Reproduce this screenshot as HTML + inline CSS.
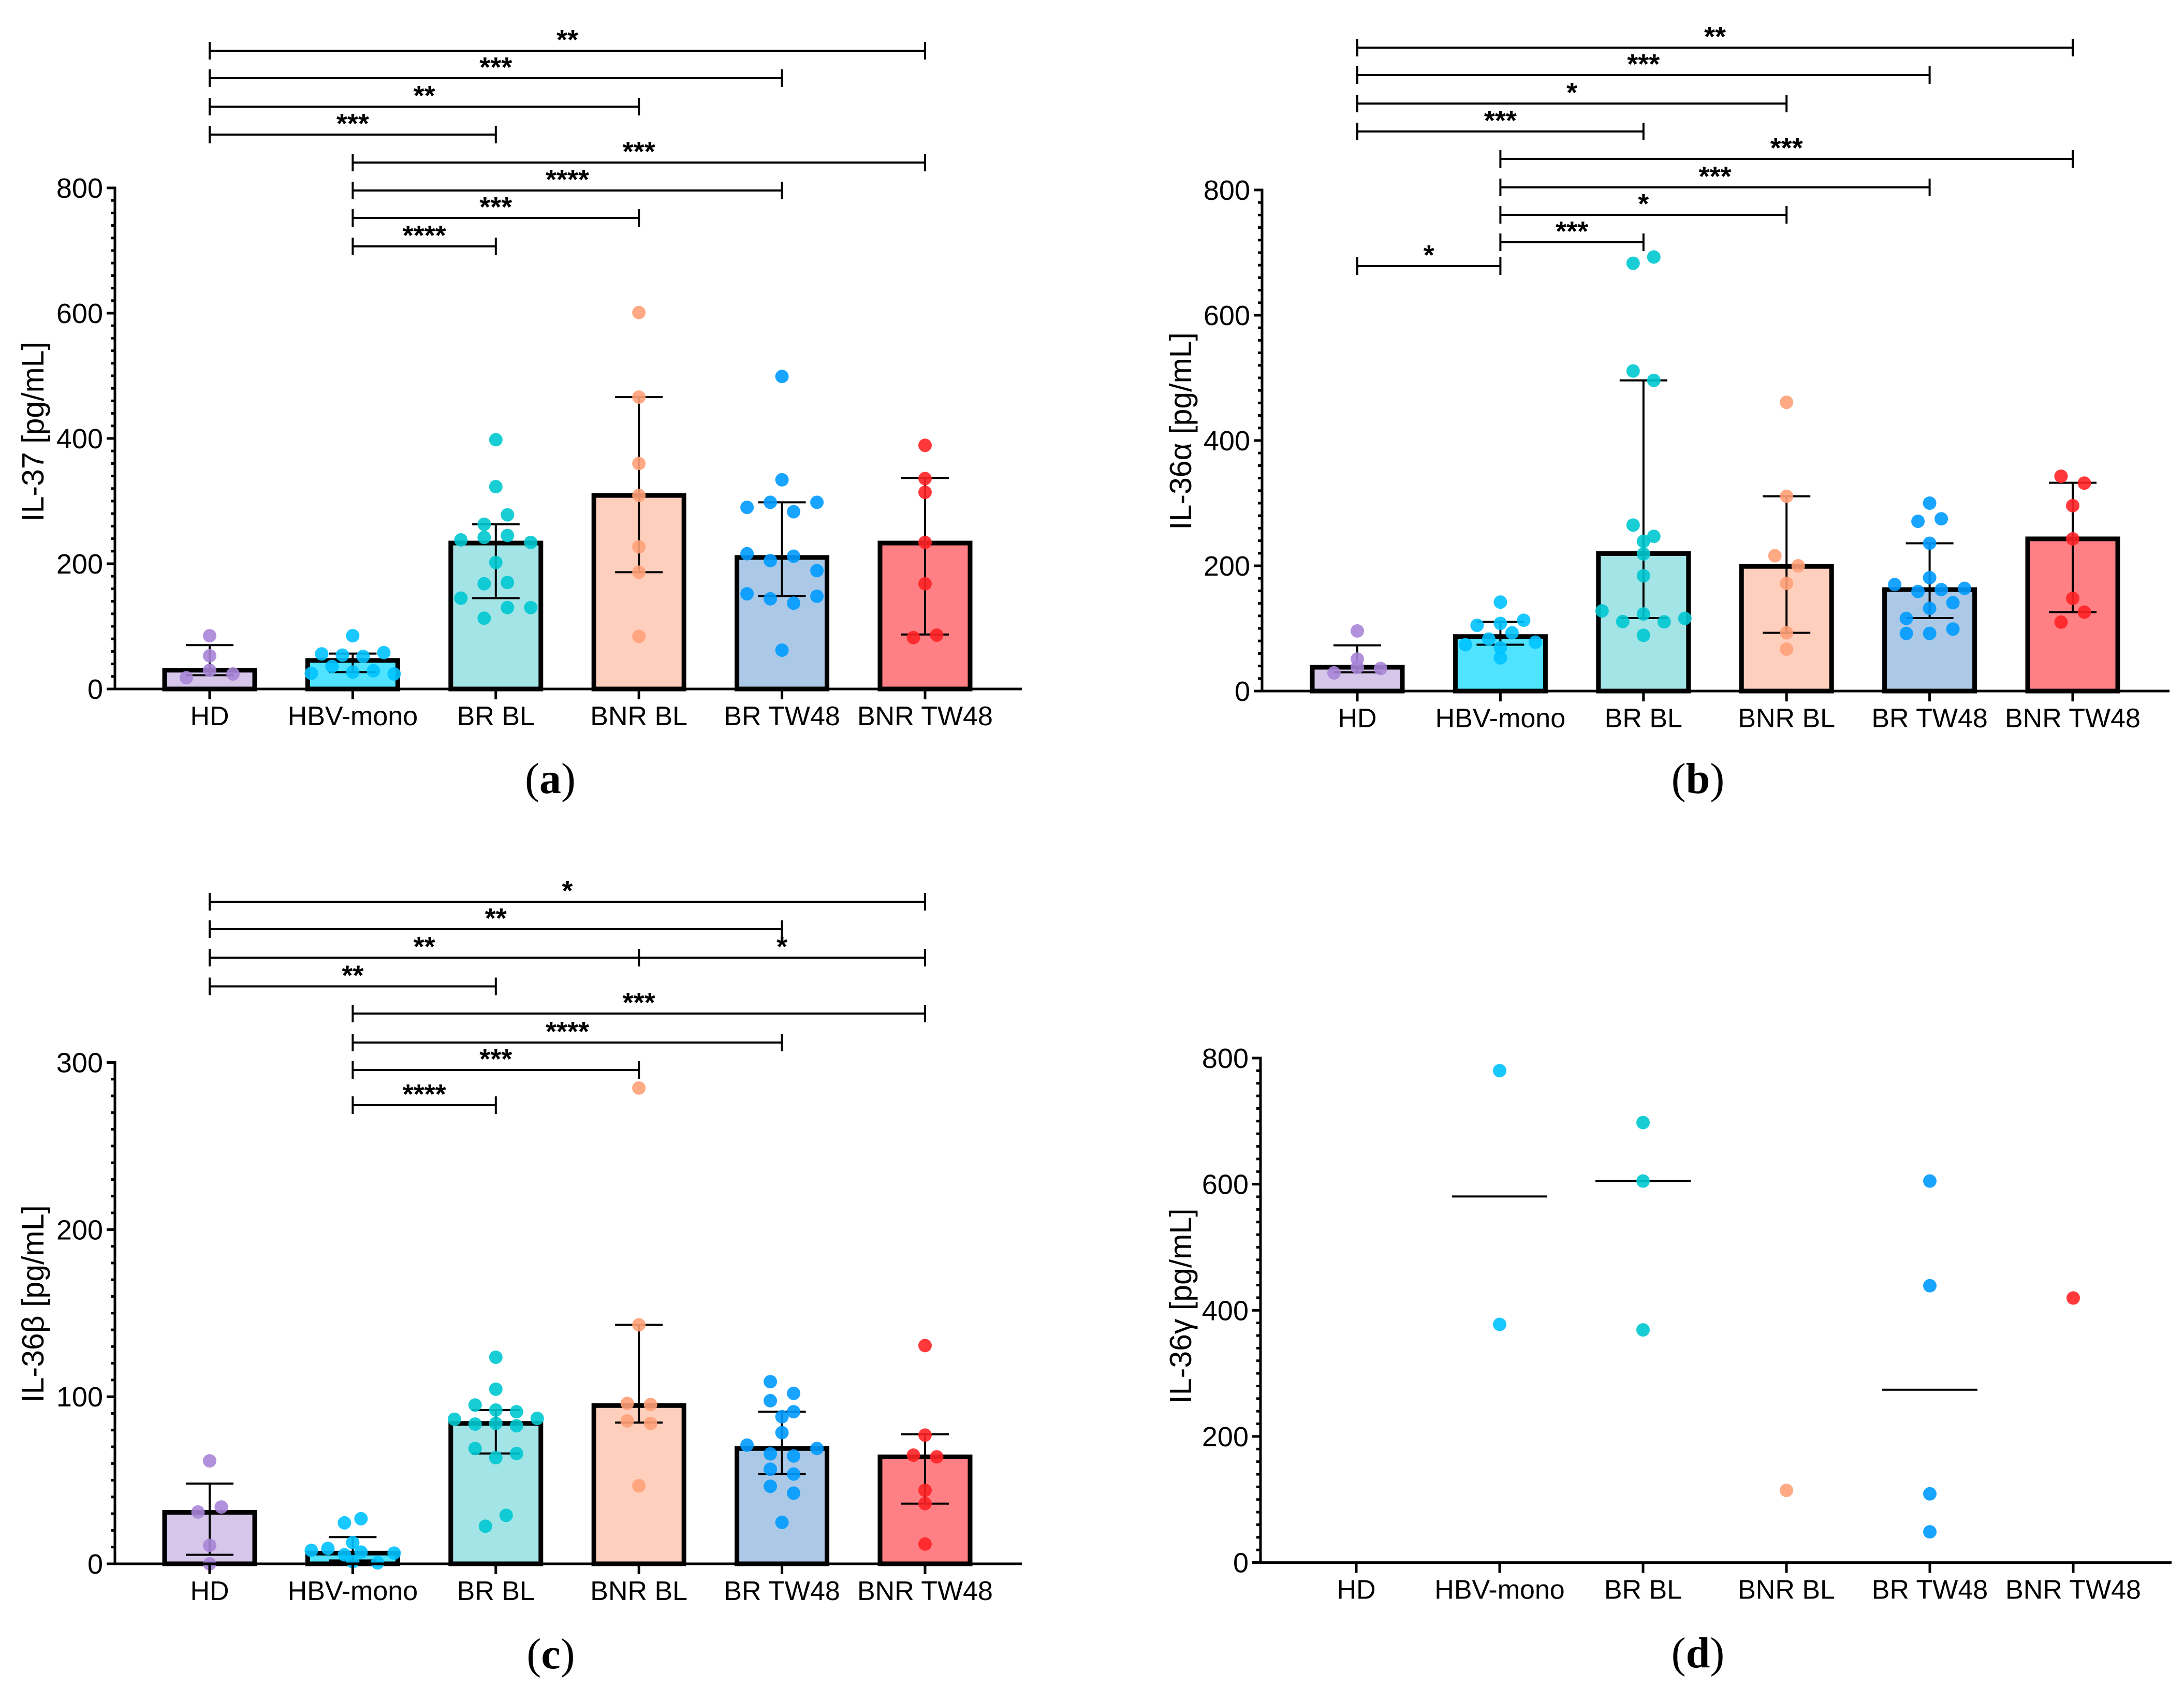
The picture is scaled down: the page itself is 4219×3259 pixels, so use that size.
<!DOCTYPE html>
<html lang="en">
<head>
<meta charset="utf-8">
<title>IL-37 and IL-36 cytokine levels by patient group</title>
<style>
html,body{margin:0;padding:0;background:#fff;}
#figure{display:block;width:4219px;height:3259px;font-family:"Liberation Sans",Arial,"DejaVu Sans",sans-serif;}
</style>
</head>
<body>
<svg id="figure" xmlns="http://www.w3.org/2000/svg" width="4219" height="3259" viewBox="0 0 4219 3259"></svg>
<script>
/* ---------- shared categories ---------- */
const categories = ['HD', 'HBV-mono', 'BR BL', 'BNR BL', 'BR TW48', 'BNR TW48'];

/* ---------- panel (a) IL-37 : each inner array is one horizontal row of the swarm ---------- */
const yTicksA = [0, 200, 400, 600, 800];
const meansA = [30, 45.6, 233, 309, 210, 233];
const upperA = [70, 56.5, 263, 466, 298, 337];
const lowerA = [22, 27, 145, 186.5, 148.5, 87];
const hdA = [[85], [53], [18, 30, 24]];
const hbvA = [[85], [56, 54, 52, 58], [25, 36, 27, 29, 24]];
const brBlA = [[398], [323], [263, 278], [238, 242, 245, 234], [202], [168, 170], [145, 113, 130, 130]];
const bnrBlA = [[601], [466], [360], [309], [227], [186.5], [84]];
const brTwA = [[499], [334], [290, 298, 283, 298], [216, 205, 212, 189], [152, 144, 137, 148], [62]];
const bnrTwA = [[389], [336], [314], [234], [168], [82, 86]];
const sigA = [[0, 5, '**'], [0, 4, '***'], [0, 3, '**'], [0, 2, '***'], [1, 5, '***'], [1, 4, '****'], [1, 3, '***'], [1, 2, '****']];

/* ---------- panel (b) IL-36 alpha ---------- */
const yTicksB = [0, 200, 400, 600, 800];
const meansB = [38, 87, 219.5, 199, 162, 243];
const upperB = [73, 110.5, 496, 311, 236, 332.5];
const lowerB = [30, 74, 116.5, 93, 116.5, 126];
const hdB = [[96], [51], [29, 38, 36]];
const hbvB = [[142], [105, 108, 113], [74, 83, 93, 78], [69], [53]];
const brBlB = [[683, 693], [511, 496], [265, 247], [239], [219], [184], [128, 111, 123, 110.5, 116], [89]];
const bnrBlB = [[461], [311], [216, 200], [172], [93], [67]];
const brTwB = [[300], [271, 275], [236], [181], [170, 159, 162, 164], [116, 132, 141], [92, 92, 99]];
const bnrTwB = [[343, 332], [296], [243], [148], [110, 126]];
const sigB = [[0, 5, '**'], [0, 4, '***'], [0, 3, '*'], [0, 2, '***'], [1, 5, '***'], [1, 4, '***'], [1, 3, '*'], [1, 2, '***'], [0, 1, '*']];

/* ---------- panel (c) IL-36 beta ---------- */
const yTicksC = [0, 100, 200, 300];
const meansC = [30.8, 6.4, 84, 94.7, 69, 64];
const upperC = [48, 16, 92, 143, 91, 77.5];
const lowerC = [5.4, 2, 66, 84.5, 53.7, 36];
const hdC = [[61.6], [31, 34], [11], [0]];
const hbvC = [[24.5, 27], [12.7], [8, 9.2, 5.4, 7, 0.6, 6.4], [1.3]];
const brBlC = [[123.6], [104.5], [95, 92, 91], [86.5, 83.6, 84, 82.6, 87], [69, 63.5, 66], [22.5, 29]];
const bnrBlC = [[284.7], [143], [96, 95.3], [85.5, 84], [46.7]];
const brTwC = [[109, 102], [97.6, 91], [88], [78.5], [71, 65.8, 64.5, 69], [56.6, 53.7], [46.4, 42.3], [24.8]];
const bnrTwC = [[130.6], [77], [65, 64], [44], [36], [11.8]];
const sigC = [[0, 5, '*'], [0, 4, '**'], [0, 3, '**'], [3, 5, '*'], [0, 2, '**'], [1, 5, '***'], [1, 4, '****'], [1, 3, '***'], [1, 2, '****']];

/* ---------- panel (d) IL-36 gamma ---------- */
const yTicksD = [0, 200, 400, 600, 800];
const mediansD = [null, 580.5, 605, null, 274, null];
const hdD = [];
const hbvD = [[780], [377.7]];
const brBlD = [[697.7], [605], [369]];
const bnrBlD = [[114.5]];
const brTwD = [[605], [439], [109], [48.7]];
const bnrTwD = [[419.5]];

/* ---------- appearance ---------- */
const barFills = ['#d5c6ea', '#4fe3ff', '#a3e4e7', '#ffcfbd', '#abc9e6', '#ff8084'];
const dotFills = ['#a985d8', '#00c2ff', '#00c8d0', '#ffa078', '#009bff', '#ff2226'];

const svg = document.getElementById('figure');
const NS = 'http://www.w3.org/2000/svg';

function make(tag, attrs, parent, text) {
  const node = document.createElementNS(NS, tag);
  for (const key in attrs) node.setAttribute(key, attrs[key]);
  if (text !== undefined) node.textContent = text;
  parent.appendChild(node);
  return node;
}

function drawPanel(p) {
  const yOf = v => p.y0 - (v / p.yMax) * (p.y0 - p.yTop);
  const xOf = i => p.x0 + i * p.step;

  const panel = make('g', {}, svg);
  
  

  /* bars */
  if (p.means) {
    p.means.forEach((v, i) => {
      const bar = make('rect', {
        x: xOf(i) - 87, y: yOf(v), width: 174, height: p.y0 - yOf(v),
        fill: barFills[i], stroke: '#000', 'stroke-width': 9
      }, panel);
      
      
    });
  }

  /* error bars */
  if (p.upper) {
    p.upper.forEach((u, i) => {
      const l = p.lower[i];
      const cx = xOf(i);
      const err = make('path', {
        d: 'M' + cx + ' ' + yOf(u) + 'V' + yOf(l) +
           'M' + (cx - 46) + ' ' + yOf(u) + 'H' + (cx + 46) +
           'M' + (cx - 46) + ' ' + yOf(l) + 'H' + (cx + 46),
        fill: 'none', stroke: '#000', 'stroke-width': 4
      }, panel);
      
      
    });
  }

  /* median lines */
  if (p.medians) {
    p.medians.forEach((v, i) => {
      if (v === null) return;
      const med = make('line', {
        x1: xOf(i) - 92, x2: xOf(i) + 92, y1: yOf(v), y2: yOf(v),
        stroke: '#000', 'stroke-width': 4
      }, panel);
      
      
    });
  }

  /* swarm points: column spacing comes from the widest row in the group */
  p.groups.forEach((rows, i) => {
    const widest = rows.reduce((m, r) => Math.max(m, r.length), 1);
    const gap = widest > 1 ? Math.min(45, 160 / (widest - 1)) : 0;
    rows.forEach(row => {
      row.forEach((v, k) => {
        const dot = make('circle', {
          cx: xOf(i) + (k - (row.length - 1) / 2) * gap,
          cy: yOf(v), r: 13, fill: dotFills[i], 'fill-opacity': 0.9
        }, panel);
        
        
      });
    });
  });

  /* y axis */
  const yAxis = make('line', {
    x1: p.xAxis, x2: p.xAxis, y1: p.yTop - 2.5, y2: p.y0 + 2.5,
    stroke: '#000', 'stroke-width': 5
  }, panel);
  
  

  /* minor ticks */
  const tickGap = p.ticks[1] - p.ticks[0];
  for (let m = 0; m * tickGap / 10 <= p.yMax; m++) {
    if (m % 10 === 0) continue;
    const v = m * tickGap / 10;
    const minor = make('line', {
      x1: p.xAxis - 8, x2: p.xAxis, y1: yOf(v), y2: yOf(v),
      stroke: '#000', 'stroke-width': 5
    }, panel);
    
    
  }

  /* major ticks and labels */
  p.ticks.forEach(v => {
    const tick = make('line', {
      x1: p.xAxis - 16, x2: p.xAxis, y1: yOf(v), y2: yOf(v),
      stroke: '#000', 'stroke-width': 5
    }, panel);
    
    
    const label = make('text', {
      x: p.xAxis - 23, y: yOf(v) + 19, 'text-anchor': 'end',
      'font-size': 54, fill: '#000'
    }, panel, String(v));
    
    
  });

  /* x axis */
  const xAxis = make('line', {
    x1: p.xAxis - 16, x2: p.xEnd, y1: p.y0, y2: p.y0,
    stroke: '#000', 'stroke-width': 5
  }, panel);
  
  

  categories.forEach((c, i) => {
    const tick = make('line', {
      x1: xOf(i), x2: xOf(i), y1: p.y0, y2: p.y0 + 20,
      stroke: '#000', 'stroke-width': 5
    }, panel);
    
    
    const label = make('text', {
      x: xOf(i), y: p.y0 + 70, 'text-anchor': 'middle',
      'font-size': 52, fill: '#000'
    }, panel, c);
    
    
  });

  /* y axis title */
  const title = make('text', {
    transform: 'translate(' + p.titleX + ' ' + p.titleY + ') rotate(-90)',
    'text-anchor': 'middle', 'font-size': 59, fill: '#000'
  }, panel, p.title);
  
  

  /* significance brackets */
  (p.sig || []).forEach((s, n) => {
    const x1 = xOf(s[0]);
    const x2 = xOf(s[1]);
    const level = p.sigLevels[n];
    const bracket = make('path', {
      d: 'M' + x1 + ' ' + (level - 17) + 'V' + (level + 17) +
         'M' + x2 + ' ' + (level - 17) + 'V' + (level + 17) +
         'M' + x1 + ' ' + level + 'H' + x2,
      fill: 'none', stroke: '#000', 'stroke-width': 4
    }, panel);
    
    
    const stars = make('text', {
      x: (x1 + x2) / 2, y: level - 3, 'text-anchor': 'middle',
      'font-size': 54, 'font-weight': 'bold', fill: '#000'
    }, panel, s[2]);
    
    
  });

  /* panel caption */
  const caption = make('text', {
    x: p.capX, y: p.capY, 'text-anchor': 'middle', 'font-size': 84, fill: '#000',
    style: 'font-family:"Liberation Serif","Times New Roman",serif'
  }, panel);
  
  
  make('tspan', {}, caption, '(');
  make('tspan', { 'font-weight': 'bold' }, caption, p.letter);
  make('tspan', {}, caption, ')');
}

drawPanel({
  name: 'panel-a-il-37', title: 'IL-37 [pg/mL]', letter: 'a',
  ticks: yTicksA, yMax: 800, y0: 1331, yTop: 363, xAxis: 222, xEnd: 1974, x0: 405, step: 276.4,
  means: meansA, upper: upperA, lower: lowerA,
  groups: [hdA, hbvA, brBlA, bnrBlA, brTwA, bnrTwA],
  sig: sigA, sigLevels: [98, 151, 206, 260, 314, 368, 421, 476],
  titleX: 84, titleY: 834, capX: 1063, capY: 1532
});

drawPanel({
  name: 'panel-b-il-36-alpha', title: 'IL-36\u03B1 [pg/mL]', letter: 'b',
  ticks: yTicksB, yMax: 800, y0: 1335, yTop: 367, xAxis: 2438, xEnd: 4191, x0: 2622, step: 276.4,
  means: meansB, upper: upperB, lower: lowerB,
  groups: [hdB, hbvB, brBlB, bnrBlB, brTwB, bnrTwB],
  sig: sigB, sigLevels: [92, 145, 200, 254, 307, 362, 415, 468, 514],
  titleX: 2301, titleY: 833, capX: 3280, capY: 1532
});

drawPanel({
  name: 'panel-c-il-36-beta', title: 'IL-36\u03B2 [pg/mL]', letter: 'c',
  ticks: yTicksC, yMax: 300, y0: 3021, yTop: 2052.5, xAxis: 222, xEnd: 1974, x0: 405, step: 276.4,
  means: meansC, upper: upperC, lower: lowerC,
  groups: [hdC, hbvC, brBlC, bnrBlC, brTwC, bnrTwC],
  sig: sigC, sigLevels: [1742, 1795, 1850, 1850, 1905.5, 1958, 2014, 2067, 2135],
  titleX: 84, titleY: 2519, capX: 1064, capY: 3223
});

drawPanel({
  name: 'panel-d-il-36-gamma', title: 'IL-36\u03B3 [pg/mL]', letter: 'd',
  ticks: yTicksD, yMax: 800, y0: 3018.6, yTop: 2044, xAxis: 2435, xEnd: 4195, x0: 2620, step: 277,
  medians: mediansD,
  groups: [hdD, hbvD, brBlD, bnrBlD, brTwD, bnrTwD],
  titleX: 2301, titleY: 2523, capX: 3280, capY: 3221
});
</script>
</body>
</html>
